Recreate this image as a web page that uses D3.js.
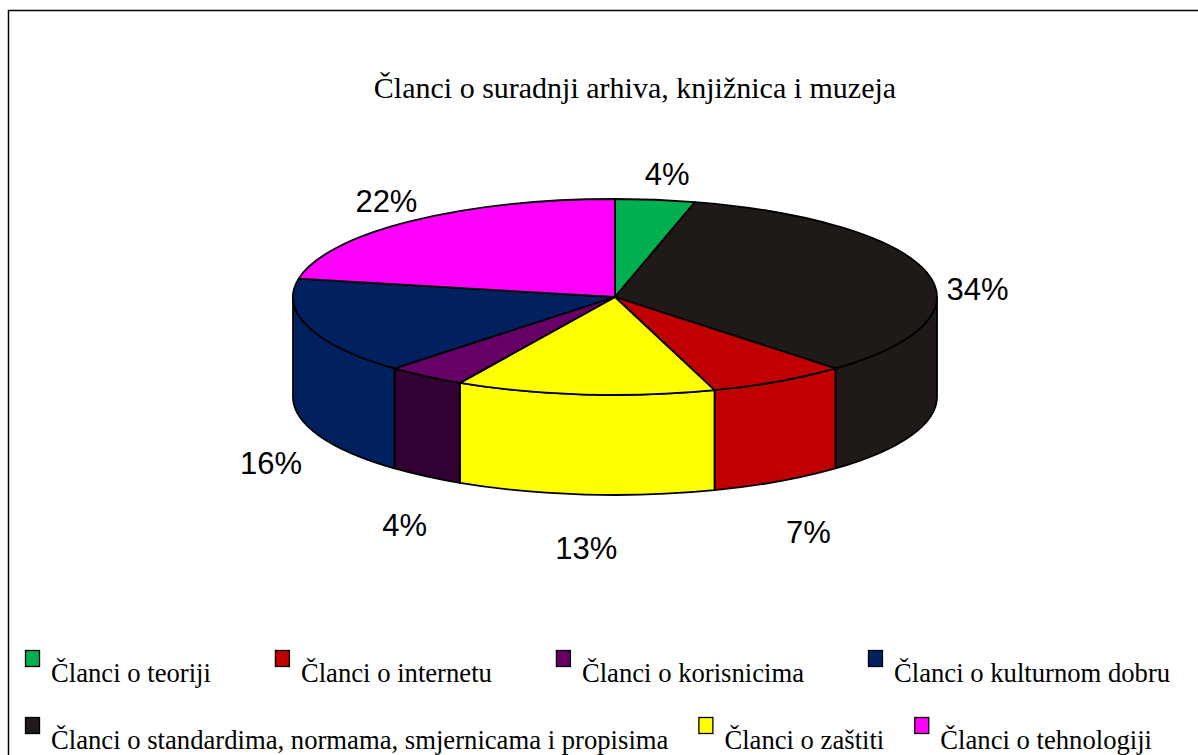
<!DOCTYPE html>
<html>
<head>
<meta charset="utf-8">
<script src="https://cdn.jsdelivr.net/npm/d3@7/dist/d3.min.js"></script>
<style>
  html, body { margin: 0; padding: 0; background: #fff; }
  svg { display: block; }
</style>
</head>
<body>
<svg id="chart" width="1198" height="755"></svg>
<script>
// ---- data ----
const title = "Članci o suradnji arhiva, knjižnica i muzeja";
const categories = [
  "Članci o teoriji",
  "Članci o standardima, normama, smjernicama i propisima",
  "Članci o internetu",
  "Članci o zaštiti",
  "Članci o korisnicima",
  "Članci o kulturnom dobru",
  "Članci o tehnologiji"
];
const values = [4, 34, 7, 13, 4, 16, 22];
const percentLabels = ["4%", "34%", "7%", "13%", "4%", "16%", "22%"];
const legendRows = [[0, 2, 4, 5], [1, 3, 6]];

// ---- styles ----
const topColors  = ["#00B050", "#1F1A17", "#C00000", "#FFFF00", "#660066", "#002060", "#FF00FF"];
const sideColors = ["#00B050", "#1F1A17", "#C00000", "#FFFF00", "#330033", "#002060", "#FF00FF"];

const W = 1198, H = 755;
const cx = 615, cy = 297, rx = 322, ry = 98, depth = 100;

const svg = d3.select("#chart");

// frame
svg.append("rect")
  .attr("x", 8.5).attr("y", 10.5)
  .attr("width", W + 20).attr("height", H + 20)
  .attr("fill", "#fff").attr("stroke", "#000").attr("stroke-width", 1.5);

// title
svg.append("text")
  .attr("x", 635).attr("y", 98)
  .attr("text-anchor", "middle")
  .attr("font-family", "'Liberation Serif', 'Times New Roman', serif")
  .attr("font-size", 30)
  .attr("fill", "#000")
  .text(title);

// pie angles (clockwise from 12 o'clock)
const pie = d3.pie().sort(null).value(d => d).startAngle(0).endAngle(2 * Math.PI);
const arcs = pie(values);

const pt = (a, dy = 0) => [cx + rx * Math.sin(a), cy - ry * Math.cos(a) + dy];

const g = svg.append("g")
  .attr("stroke", "#000").attr("stroke-width", 1.8).attr("stroke-linejoin", "round");

// side walls (visible front half: PI/2 .. 3PI/2)
arcs.forEach((d, i) => {
  const s = Math.max(d.startAngle, Math.PI / 2);
  const e = Math.min(d.endAngle, 3 * Math.PI / 2);
  if (e <= s) return;
  const p0 = pt(s), p1 = pt(e), b1 = pt(e, depth), b0 = pt(s, depth);
  const large = (e - s) > Math.PI ? 1 : 0;
  const path = `M${p0[0]},${p0[1]} A${rx},${ry} 0 ${large} 1 ${p1[0]},${p1[1]} ` +
               `L${b1[0]},${b1[1]} A${rx},${ry} 0 ${large} 0 ${b0[0]},${b0[1]} Z`;
  g.append("path").attr("d", path).attr("fill", sideColors[i]);
});

// top faces
arcs.forEach((d, i) => {
  const p0 = pt(d.startAngle), p1 = pt(d.endAngle);
  const large = (d.endAngle - d.startAngle) > Math.PI ? 1 : 0;
  const path = `M${cx},${cy} L${p0[0]},${p0[1]} A${rx},${ry} 0 ${large} 1 ${p1[0]},${p1[1]} Z`;
  g.append("path").attr("d", path).attr("fill", topColors[i]);
});

// percent labels
const rxL = 368, ryL = 124, dL = 128;
arcs.forEach((d, i) => {
  const m = (d.startAngle + d.endAngle) / 2;
  const c = Math.cos(m);
  const extra = c < 0 ? dL : dL * Math.pow(1 - c, 6);
  const x = cx + 6 + rxL * Math.sin(m);
  const y = cy - ryL * c + extra;
  svg.append("text")
    .attr("x", x).attr("y", y + 11)
    .attr("text-anchor", "middle")
    .attr("font-family", "'Liberation Sans', Arial, sans-serif")
    .attr("font-size", 31)
    .attr("fill", "#000")
    .text(percentLabels[i]);
});

// legend
const legendBaselines = [682, 749];
const legendGaps = [64, 30];
const lg = svg.append("g");
legendRows.forEach((row, r) => {
  let x = 25;
  row.forEach(i => {
    const base = legendBaselines[r];
    lg.append("rect")
      .attr("x", x + 0.5).attr("y", base - 32 + 0.5)
      .attr("width", 14).attr("height", 16)
      .attr("fill", topColors[i]).attr("stroke", "#000").attr("stroke-width", 1.3);
    const t = lg.append("text")
      .attr("x", x + 26).attr("y", base)
      .attr("font-family", "'Liberation Serif', 'Times New Roman', serif")
      .attr("font-size", 26.67)
      .attr("fill", "#000")
      .text(categories[i]);
    const w = t.node().getComputedTextLength();
    x = x + 26 + w + legendGaps[r];
  });
});
</script>
</body>
</html>
